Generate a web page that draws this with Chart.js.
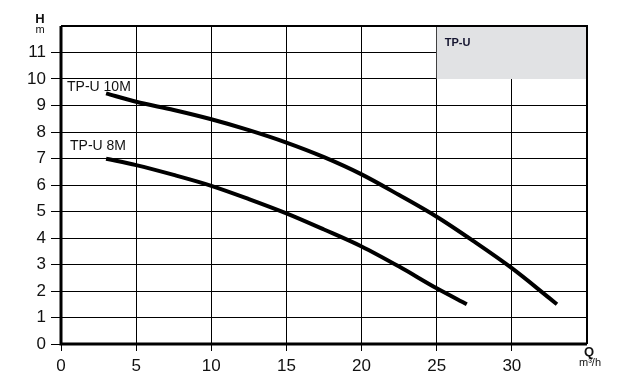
<!DOCTYPE html>
<html>
<head>
<meta charset="utf-8">
<script src="https://cdn.jsdelivr.net/npm/chart.js@4"></script>
<style>
  body { margin: 0; background: #fff; }
  #wrap { width: 626px; height: 389px; position: relative; }
</style>
</head>
<body>
<div id="wrap"><canvas id="pumpChart"></canvas></div>
<script>
// flow Q (m3/h) and head H (m)
const q10 = [3, 5, 7.5, 10, 12.5, 15, 17.5, 20, 22.5, 25, 27.5, 30, 32.5, 33];
const h10 = [9.46, 9.14, 8.83, 8.48, 8.07, 7.6, 7.05, 6.4, 5.62, 4.8, 3.86, 2.86, 1.73, 1.5];
const q8 = [3, 5, 7.5, 10, 12.5, 15, 17.5, 20, 22.5, 25, 27];
const h8 = [6.99, 6.75, 6.38, 5.97, 5.47, 4.93, 4.32, 3.68, 2.92, 2.1, 1.5];

const seriesNames = ['TP-U 10M', 'TP-U 8M'];
const xTicks = [0, 5, 10, 15, 20, 25, 30];
const yTicks = [0, 1, 2, 3, 4, 5, 6, 7, 8, 9, 10, 11];

const FONT = '"Liberation Sans", Arial, sans-serif';

function toPoints(xs, ys) {
    return xs.map((x, i) => ({ x: x, y: ys[i] }));
}

// grey title box, frame, axis captions and curve labels
const decorations = {
    id: 'decorations',
    beforeDatasetsDraw(chart) {
        const ctx = chart.ctx;
        const xs = chart.scales.x, ys = chart.scales.y;
        const x0 = xs.getPixelForValue(25), x1 = xs.getPixelForValue(35);
        const y0 = ys.getPixelForValue(12), y1 = ys.getPixelForValue(10);
        ctx.save();
        ctx.fillStyle = '#e1e2e4';
        ctx.fillRect(x0, y0, x1 - x0, y1 - y0);
        ctx.fillStyle = '#151530';
        ctx.font = 'bold 11px ' + FONT;
        ctx.textBaseline = 'middle';
        ctx.fillText('TP-U', x0 + 8, y0 + 17);
        ctx.restore();
    },
    afterDatasetsDraw(chart) {
        const ctx = chart.ctx;
        const a = chart.chartArea;
        const xs = chart.scales.x, ys = chart.scales.y;
        ctx.save();
        ctx.strokeStyle = '#000';
        ctx.lineWidth = 2;
        ctx.beginPath();
        ctx.moveTo(a.left, a.top);
        ctx.lineTo(a.right, a.top);
        ctx.lineTo(a.right, a.bottom);
        ctx.stroke();
        ctx.lineWidth = 3;
        ctx.beginPath();
        ctx.moveTo(a.left, a.top);
        ctx.lineTo(a.left, a.bottom);
        ctx.lineTo(a.right, a.bottom);
        ctx.stroke();

        ctx.fillStyle = '#111';
        ctx.textAlign = 'left';
        ctx.textBaseline = 'middle';
        ctx.font = '14px ' + FONT;
        ctx.fillText(seriesNames[0], xs.getPixelForValue(0.4), ys.getPixelForValue(9.7));
        ctx.fillText(seriesNames[1], xs.getPixelForValue(0.6), ys.getPixelForValue(7.45));

        ctx.textAlign = 'center';
        ctx.font = 'bold 13px ' + FONT;
        ctx.fillText('H', a.left - 21, a.top - 7);
        ctx.fillText('Q', a.right + 2, a.bottom + 8);
        ctx.font = '11px ' + FONT;
        ctx.fillText('m', a.left - 21, a.top + 4);
        ctx.fillText('m³/h', a.right + 3, a.bottom + 19);
        ctx.restore();
    }
};

new Chart(document.getElementById('pumpChart').getContext('2d'), {
    type: 'line',
    data: {
        datasets: [
            { label: seriesNames[0], data: toPoints(q10, h10) },
            { label: seriesNames[1], data: toPoints(q8, h8) }
        ]
    },
    options: {
        responsive: true,
        maintainAspectRatio: false,
        animation: false,
        layout: { padding: { top: 26, right: 39, left: 0, bottom: 0 } },
        elements: {
            line: { borderColor: '#000', borderWidth: 4, cubicInterpolationMode: 'monotone', fill: false },
            point: { radius: 0 }
        },
        plugins: {
            legend: { display: false },
            tooltip: { enabled: false }
        },
        scales: {
            x: {
                type: 'linear',
                min: 0,
                max: 35,
                afterBuildTicks: s => { s.ticks = xTicks.concat([35]).map(v => ({ value: v })); },
                afterFit: s => { s.height = 45; },
                border: { display: false },
                grid: {
                    color: '#000',
                    lineWidth: c => (c.tick && c.tick.value === 35 ? 0 : 1),
                    tickLength: 7
                },
                ticks: {
                    padding: 5,
                    color: '#111',
                    font: { family: FONT, size: 17 },
                    callback: v => (xTicks.includes(v) ? v : '')
                }
            },
            y: {
                min: 0,
                max: 12,
                afterBuildTicks: s => { s.ticks = yTicks.concat([12]).map(v => ({ value: v })); },
                afterFit: s => { s.width = 61; },
                border: { display: false },
                grid: {
                    color: '#000',
                    lineWidth: c => (c.tick && c.tick.value === 12 ? 0 : 1),
                    tickLength: 10
                },
                ticks: {
                    padding: 5,
                    color: '#111',
                    font: { family: FONT, size: 17 },
                    callback: v => (yTicks.includes(v) ? v : '')
                }
            }
        }
    },
    plugins: [decorations]
});
</script>
</body>
</html>
